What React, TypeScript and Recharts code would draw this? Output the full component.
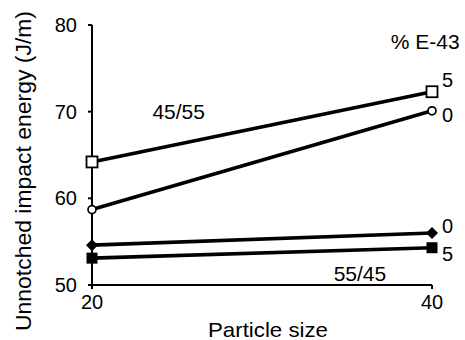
import React from "react";
import { LineChart, Line, XAxis, YAxis, ReferenceDot, LabelList, Label } from "recharts";

const particleSizes = [20, 40];
const s4555_5 = [64.2, 72.3];
const s4555_0 = [58.7, 70.1];
const s5545_0 = [54.6, 56.0];
const s5545_5 = [53.1, 54.3];
const yTicks = [50, 60, 70, 80];
const xTicks = [20, 40];
const endLabels = { a: "5", b: "0", c: "0", d: "5" };

const data = particleSizes.map((x, i) => ({
  x,
  a: s4555_5[i],
  b: s4555_0[i],
  c: s5545_0[i],
  d: s5545_5[i],
}));

const FONT = "'Liberation Sans', Arial, sans-serif";
const FS = 20;

const OpenSquare = (p: any) => (
  <rect key={p.index} x={p.cx - 5.5} y={p.cy - 5.5} width={11} height={11} fill="#fff" stroke="#000" strokeWidth={1.8} />
);
const OpenCircle = (p: any) => (
  <circle key={p.index} cx={p.cx} cy={p.cy} r={4} fill="#fff" stroke="#000" strokeWidth={1.7} />
);
const FilledDiamond = (p: any) => (
  <path key={p.index} d={`M${p.cx},${p.cy - 6} L${p.cx + 6},${p.cy} L${p.cx},${p.cy + 6} L${p.cx - 6},${p.cy} Z`} fill="#000" />
);
const FilledSquare = (p: any) => (
  <rect key={p.index} x={p.cx - 5.5} y={p.cy - 5.5} width={11} height={11} fill="#000" />
);

const endLabel = (text: string, dy: number) => (p: any) => {
  if (p.index !== 1) return null;
  return (
    <text x={p.x + 10} y={p.y + dy} fontSize={FS} fontFamily={FONT} fill="#000" dominantBaseline="central">
      {text}
    </text>
  );
};

export default function App() {
  return (
    <div style={{ position: "absolute", left: 0, top: 0, background: "#fff" }}>
      <LineChart width={465} height={340} data={data} margin={{ top: 25, right: 33, left: 0, bottom: 0 }}>
        <XAxis
          dataKey="x"
          type="number"
          domain={[20, 40]}
          ticks={xTicks}
          height={55}
          stroke="#000"
          strokeWidth={2}
          tickSize={4}
          tickMargin={6}
          tick={{ fill: "#000", fontSize: FS, fontFamily: FONT }}
        >
          <Label
            content={() => (
              <text x={268} y={337} textAnchor="middle" fontSize={21} fontFamily={FONT} fill="#000" textLength={120} lengthAdjust="spacingAndGlyphs">
                Particle size
              </text>
            )}
          />
        </XAxis>
        <YAxis
          type="number"
          domain={[50, 80]}
          ticks={yTicks}
          width={92}
          stroke="#000"
          strokeWidth={2}
          tickSize={4}
          tickMargin={11}
          tick={{ fill: "#000", fontSize: FS, fontFamily: FONT }}
        >
          <Label
            content={() => {
              const cx = 31;
              const cy = 171;
              return (
                <text x={cx} y={cy} transform={`rotate(-90 ${cx} ${cy})`} textAnchor="middle" fontSize={22} fontFamily={FONT} fill="#000" textLength={320} lengthAdjust="spacingAndGlyphs">
                  Unnotched impact energy (J/m)
                </text>
              );
            }}
          />
        </YAxis>
        <Line dataKey="a" stroke="#000" strokeWidth={3.6} dot={OpenSquare} isAnimationActive={false}>
          <LabelList dataKey="a" content={endLabel(endLabels.a, -12)} />
        </Line>
        <Line dataKey="b" stroke="#000" strokeWidth={3.6} dot={OpenCircle} isAnimationActive={false}>
          <LabelList dataKey="b" content={endLabel(endLabels.b, 4)} />
        </Line>
        <Line dataKey="c" stroke="#000" strokeWidth={3.6} dot={FilledDiamond} isAnimationActive={false}>
          <LabelList dataKey="c" content={endLabel(endLabels.c, -7)} />
        </Line>
        <Line dataKey="d" stroke="#000" strokeWidth={3.6} dot={FilledSquare} isAnimationActive={false}>
          <LabelList dataKey="d" content={endLabel(endLabels.d, 6.5)} />
        </Line>
        <ReferenceDot x={25.1} y={70} r={0} stroke="none" fill="none"
          label={{ value: "45/55", fontSize: 21, fontFamily: FONT, fill: "#000", position: "center" }} />
        <ReferenceDot x={35.76} y={51.33} r={0} stroke="none" fill="none"
          label={{ value: "55/45", fontSize: 21, fontFamily: FONT, fill: "#000", position: "center" }} />
        <ReferenceDot x={39.6} y={78.1} r={0} stroke="none" fill="none" ifOverflow="visible"
          label={{ value: "% E-43", fontSize: 21, fontFamily: FONT, fill: "#000", position: "center" }} />
      </LineChart>
    </div>
  );
}
